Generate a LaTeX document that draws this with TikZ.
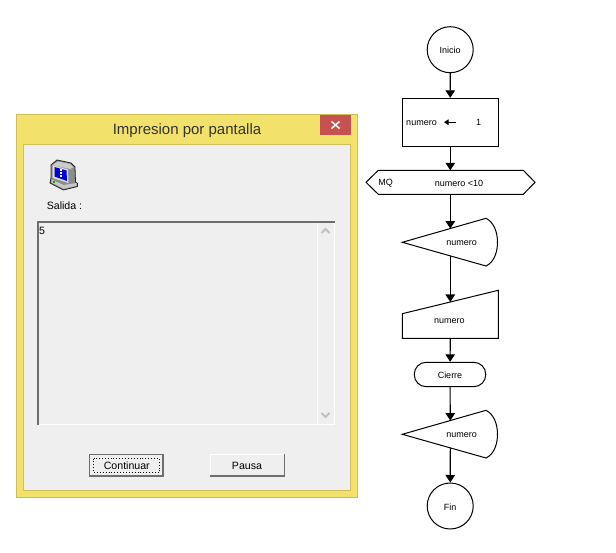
\documentclass[tikz,border=0pt]{standalone}
\usepackage{fontspec}
\setmainfont{Liberation Sans}
\usepackage{xcolor}
\usetikzlibrary{arrows.meta, positioning, calc}
\definecolor{winyellow}{HTML}{F2E26B}
\definecolor{winedge}{HTML}{CDBE58}
\definecolor{winface}{HTML}{EFEFEF}
\definecolor{winred}{HTML}{C75050}
\definecolor{wingray}{HTML}{6E6E6E}
\tikzset{
  flowline/.style={line width=1.1pt, -{Triangle[length=7.5pt,width=9.5pt]}},
  flowshape/.style={draw, line width=1pt, fill=white},
  flowlabel/.style={inner sep=0pt, yshift=-1pt, font=\fontsize{9}{10}\selectfont},
  wintext/.style={inner sep=0pt, yshift=-1pt, font=\fontsize{10.6}{12}\selectfont}
}

\begin{document}
\begin{tikzpicture}[x=1pt,y=-1pt]
\useasboundingbox (0,0) rectangle (616,553);

% ---------------- LEFT: Window ----------------
\fill[black!25] (15.5,113.8) rectangle (358.2,497.8);
\filldraw[fill=winyellow, draw=winedge, line width=0.8pt] (16.3,114.6) rectangle (357.4,497);
\filldraw[fill=winface, draw=winedge, line width=1pt] (23.7,144.3) rectangle (350.7,490);
\fill[winred] (320,115) rectangle (351,135);
\draw[white, line width=1.5pt] (331.5,121.5) -- (339.5,128.5) (331.5,128.5) -- (339.5,121.5);
\node[inner sep=0pt, font=\fontsize{15}{16}\selectfont, text=black!80] (title) at (187,131) {Impresion por pantalla};

% Icon
\filldraw[fill=black!45, draw=black!85, line width=0.8pt] (51,178) -- (51,165) -- (57,160) -- (71,163) -- (75,167) -- (75.5,182) -- (77.5,183.5) -- (77.5,186.5) -- (63.5,190) -- (50,183) -- cycle;
\fill[black!20] (52.5,165) -- (58,161.5) -- (70,164) -- (73.5,167.5) -- (70,169) -- cycle;
\fill[black!15] (52.5,165) -- (68,169.5) -- (68.5,183) -- (52.5,178) -- cycle;
\fill[blue!85!black] (54.5,167) -- (66.5,170.5) -- (67,181) -- (54.5,176.5) -- cycle;
\foreach \ypos in {169.5,172.5,175.5} \fill[white] (60,\ypos) rectangle (61.5,\ypos+1.5);
\fill[black!22] (51.5,179.5) -- (63.5,185) -- (76.5,183) -- (76.5,185.8) -- (63.5,188.8) -- (51.5,182.5) -- cycle;
\fill[green!70!black] (52.8,181) rectangle (54.8,182.8);
\node[wintext] (salida) at (64.5,205) {Salida :};

% Output area
\fill[white] (36.7,220.7) rectangle (335.4,425.4);
\fill[winface] (38,222) rectangle (334,424);
\draw[white, line width=1pt] (317.6,221.5) -- (317.6,424);
\draw[wingray, line width=2pt] (335,221.6) -- (37.6,221.6) -- (37.6,425);
\node[wintext, anchor=west] (value) at (39,230) {5};
\draw[black!25, line width=1.8pt] (321.5,233) -- (325.5,229) -- (329.5,233);
\draw[black!25, line width=1.8pt] (321.5,413) -- (325.5,417) -- (329.5,413);

% Buttons
\filldraw[fill=winface, draw=wingray, line width=1.2pt] (89.6,454.6) rectangle (163,476);
\draw[wingray, line width=1.8pt] (89,475.8) -- (163.2,475.8) -- (163.2,454);
\draw[black, line width=0.9pt, dotted] (93.5,458.5) rectangle (159.5,472.5);
\node[wintext] (continuar) at (126.8,465) {Continuar};
\fill[white] (210,454) rectangle (285,477);
\fill[winface] (211,455) rectangle (284,475.5);
\draw[wingray, line width=1.8pt] (210,476) -- (284.4,476) -- (284.4,454);
\node[wintext] (pausa) at (247,465) {Pausa};

% ---------------- RIGHT: Flow chart ----------------
\node[flowshape, circle, minimum size=46pt, inner sep=0pt] (inicio) at (450.2,49.7) {};
\node[flowlabel] (iniciotxt) at (inicio) {Inicio};
\node[flowshape, rectangle, minimum width=96pt, minimum height=48pt] (asigna) at (450.3,122.3) {};
\node[flowlabel] (asignavar) at (421.5,121.7) {numero};
\node[flowlabel] (asignaval) at (478.5,121.7) {1};
\draw[line width=1pt, -{Triangle[length=4.5pt,width=5.5pt]}] (456,122.2) -- (444,122.2);

% Loop header
\filldraw[flowshape] (366,182.3) -- (378.3,170.3) -- (523.3,170.3) -- (535,182.3) -- (523.3,194.3) -- (378.3,194.3) -- cycle;
\coordinate (mqtop) at (450.3,170.3);
\coordinate (mqbot) at (450.3,194.3);
\node[flowlabel] (mq) at (385.7,182) {MQ};
\node[flowlabel] (cond) at (459,182) {numero <10};

% Display symbols
\foreach \nm/\ypos in {dispa/242.3,dispb/434.3} {
  \filldraw[flowshape] (402.3,\ypos) -- (486,\ypos-24) .. controls (494,\ypos-20) and (497.5,\ypos-10) .. (497.5,\ypos) .. controls (497.5,\ypos+10) and (494,\ypos+20) .. (486,\ypos+23.7) -- cycle;
  \coordinate (\nm top) at (450.3,\ypos-13.7);
  \coordinate (\nm bot) at (450.3,\ypos+13.6);
  \node[flowlabel] (\nm) at (461.7,\ypos) {numero};
}

% Manual input
\filldraw[flowshape] (402.3,313.7) -- (498.3,290.3) -- (498.3,338.3) -- (402.3,338.3) -- cycle;
\coordinate (leetop) at (450.3,302);
\coordinate (leebot) at (450.3,338.3);
\node[flowlabel] (lee) at (449.3,320) {numero};

\node[flowshape, rounded corners=12pt, minimum width=71.5pt, minimum height=24.4pt] (cierre) at (450,374.5) {};
\node[flowlabel] (cierretxt) at (cierre) {Cierre};
\node[flowshape, circle, minimum size=46pt, inner sep=0pt] (fin) at (450.2,506) {};
\node[flowlabel] (fintxt) at (fin) {Fin};

% Connectors
\draw[flowline] (inicio) -- (asigna);
\draw[flowline] (asigna) -- (mqtop);
\draw[flowline] (mqbot) -- (dispatop);
\draw[flowline] (dispabot) -- (leetop);
\draw[flowline] (leebot) -- (cierre);
\draw[flowline] (cierre) -- (dispbtop);
\draw[flowline] (dispbbot) -- (fin);
\end{tikzpicture}
\end{document}
